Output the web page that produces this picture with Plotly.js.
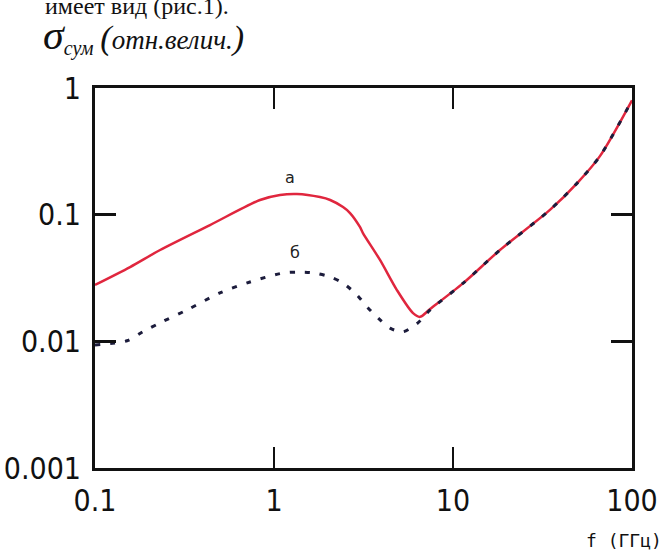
<!DOCTYPE html>
<html>
<head>
<meta charset="utf-8">
<script src="https://cdn.plot.ly/plotly-3.0.1.min.js"></script>
<style>
html,body{margin:0;padding:0;background:#fff;}
#chart{width:664px;height:553px;}
</style>
</head>
<body>
<div id="chart"></div>
<script>
// Curve "а" (solid red)
var freqA  = [0.1, 0.157, 0.231, 0.439, 0.835, 1.08, 1.343, 1.806, 2.06, 2.43, 2.66, 3.02, 3.14, 3.91, 4.86, 5.98, 6.54, 7.45, 11.4, 18.3, 34.8, 50, 66.2, 100];
var sigmaA = [0.0279, 0.0386, 0.0526, 0.0828, 0.1306, 0.143, 0.1456, 0.1377, 0.1306, 0.1148, 0.103, 0.0800, 0.0716, 0.0439, 0.0254, 0.0167, 0.0156, 0.0180, 0.0288, 0.0526, 0.109, 0.181, 0.29, 0.80];
// Curve "б" (dotted)
var freqB  = [0.1, 0.151, 0.185, 0.231, 0.327, 0.499, 0.734, 1.12, 1.36, 1.69, 2.06, 2.43, 2.91, 3.31, 3.81, 4.45, 5.26, 6.37, 7.45, 11.4, 18.3, 34.8, 50, 66.2, 100];
var sigmaB = [0.00936, 0.0101, 0.0119, 0.0140, 0.0177, 0.0241, 0.0294, 0.0346, 0.0352, 0.0346, 0.0322, 0.0288, 0.0232, 0.0187, 0.0153, 0.0127, 0.0119, 0.0140, 0.0177, 0.0288, 0.0526, 0.109, 0.181, 0.29, 0.80];
// Ticks
var xTickVals = [0.1, 1, 10, 100];
var xTickText = ['0.1', '1', '10', '100'];
var yTickVals = [0.001, 0.01, 0.1, 1];
var yTickText = ['0.001', '0.01', '0.1', '1'];
var curveLabels = ['а', 'б'];

var tickFont = {family: 'Liberation Sans Narrow, DejaVu Sans Condensed, Liberation Sans, sans-serif', size: 30, color: '#111'};

var traces = [
  {x: freqA, y: sigmaA, mode: 'lines', type: 'scatter',
   line: {color: '#e0263e', width: 2.5, shape: 'spline', smoothing: 0.8}, hoverinfo: 'skip'},
  {x: freqB, y: sigmaB, mode: 'lines', type: 'scatter',
   line: {color: '#1c1c3c', width: 3, dash: '5px,10px', shape: 'spline', smoothing: 0.8}, hoverinfo: 'skip'}
];

var axisCommon = {
  type: 'log', showgrid: false, zeroline: false,
  showline: true, linecolor: '#111', linewidth: 3, mirror: 'ticks',
  ticks: 'inside', ticklen: 21, tickwidth: 2.5, tickcolor: '#111',
  tickfont: tickFont
};

var layout = {
  width: 664, height: 553,
  margin: {l: 95, r: 32, t: 88, b: 85},
  paper_bgcolor: '#fff', plot_bgcolor: '#fff',
  showlegend: false,
  xaxis: Object.assign({}, axisCommon, {range: [-1, 2], tickvals: xTickVals, ticktext: xTickText, ticklabelstandoff: 4}),
  yaxis: Object.assign({}, axisCommon, {range: [-3, 0], tickvals: yTickVals, ticktext: yTickText, ticklabelstandoff: 5}),
  annotations: [
    {text: curveLabels[0], xref: 'x', yref: 'y', x: 0.089, y: -0.703, showarrow: false,
     font: {family: 'DejaVu Sans, sans-serif', size: 16, color: '#222'}},
    {text: curveLabels[1], xref: 'x', yref: 'y', x: 0.117, y: -1.295, showarrow: false,
     font: {family: 'DejaVu Sans, sans-serif', size: 16, color: '#222'}},
    {text: 'имеет вид (рис.1).', xref: 'paper', yref: 'paper', x: -0.097, y: 1.176, xanchor: 'left', yanchor: 'bottom', showarrow: false,
     font: {family: 'Liberation Serif, serif', size: 24, color: '#111'}},
    {text: '<i><span style="font-size:42px">σ</span><sub><span style="font-size:20px">сум</span></sub> <span style="font-size:34px">(</span>отн.велич.<span style="font-size:34px">)</span></i>',
     xref: 'paper', yref: 'paper', x: -0.1, y: 1.137, xanchor: 'left', yanchor: 'middle', showarrow: false,
     font: {family: 'Liberation Serif, serif', size: 27, color: '#111'}},
    {text: 'f (ГГц)', xref: 'paper', yref: 'paper', x: 1.06, y: -0.19, xanchor: 'right', yanchor: 'middle', showarrow: false,
     font: {family: 'DejaVu Sans Mono, monospace', size: 18, color: '#111'}}
  ]
};

Plotly.newPlot('chart', traces, layout, {displayModeBar: false, staticPlot: true});
</script>
</body>
</html>
